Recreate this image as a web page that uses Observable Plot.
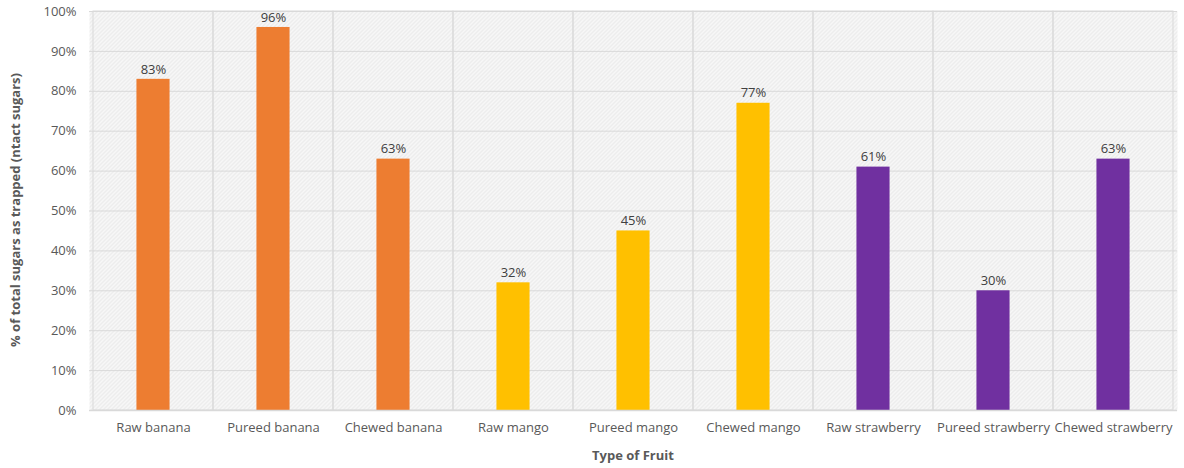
<!DOCTYPE html>
<html><head><meta charset="utf-8">
<script src="https://cdn.jsdelivr.net/npm/d3@7"></script>
<script src="https://cdn.jsdelivr.net/npm/@observablehq/plot@0.6"></script>
<style>
body{margin:0;background:#fff;}
#chart{position:relative;width:1184px;height:468px;}
</style></head>
<body><div id="chart"></div>
<script>
const categories = ["Raw banana","Pureed banana","Chewed banana","Raw mango","Pureed mango","Chewed mango","Raw strawberry","Pureed strawberry","Chewed strawberry"];
const values = [83,96,63,32,45,77,61,30,63];
const fruits = ["banana","banana","banana","mango","mango","mango","strawberry","strawberry","strawberry"];
const fruitDomain = ["banana","mango","strawberry"];
const fruitColors = ["#ED7D31","#FFC000","#7030A0"];
const yTicks = [0,10,20,30,40,50,60,70,80,90,100];

const data = categories.map((c,i)=>({cat:c, v:values[i], fruit:fruits[i]}));

const W = 1184, H = 468;
const ml = 89, mr = 7;
const bw = (W - ml - mr) / categories.length;
const inset = (bw - 34) / 2;

const plot = Plot.plot({
  width: W, height: H,
  marginLeft: ml, marginRight: mr, marginTop: 11, marginBottom: 58,
  style: {fontFamily: "'Open Sans', sans-serif", fontSize: "13px", color: "#595959", background: "#fff"},
  x: {domain: categories, padding: 0, label: null, tickSize: 0, tickPadding: 12},
  y: {domain: [0,100], ticks: yTicks, tickFormat: d => d + "%", label: null, tickSize: 0, tickPadding: 13},
  color: {domain: fruitDomain, range: fruitColors},
  marks: [
    Plot.frame({fill: "url(#hatch)", stroke: "none"}),
    Plot.gridY(yTicks, {stroke: "#d9d9d9", strokeOpacity: 1, strokeWidth: 1}),
    Plot.barY(data, {x: "cat", y1: 0, y2: 100, fill: "none", stroke: "#d9d9d9", strokeWidth: 1}),
    Plot.barY(data, {x: "cat", y: "v", fill: "fruit", insetLeft: inset, insetRight: inset}),
    Plot.text(data, {x: "cat", y: "v", text: d => d.v + "%", dy: -10, fill: "#404040", fontSize: 13, fontFamily: "'Open Sans', sans-serif"}),
    Plot.ruleY([0], {stroke: "#d9d9d9", strokeWidth: 1.5})
  ]
});

// add hatch pattern
const ns = "http://www.w3.org/2000/svg";
const defs = document.createElementNS(ns, "defs");
defs.innerHTML = `<pattern id="hatch" patternUnits="userSpaceOnUse" width="4" height="4">
  <rect width="4" height="4" fill="#f7f7f7"/>
  <path d="M-1,1 l2,-2 M0,4 l4,-4 M3,5 l2,-2" stroke="#e2e2e2" stroke-width="1"/>
</pattern>`;
plot.insertBefore(defs, plot.firstChild);

// axis labels
const yl = document.createElementNS(ns, "text");
yl.setAttribute("transform", "translate(20,210) rotate(-90)");
yl.setAttribute("text-anchor", "middle");
yl.setAttribute("font-weight", "bold");
yl.setAttribute("font-size", "13");
yl.setAttribute("fill", "#595959");
yl.textContent = "% of total sugars as trapped (ntact sugars)";
plot.appendChild(yl);

const xl = document.createElementNS(ns, "text");
xl.setAttribute("x", 633);
xl.setAttribute("y", 460);
xl.setAttribute("text-anchor", "middle");
xl.setAttribute("font-weight", "bold");
xl.setAttribute("font-size", "13");
xl.setAttribute("fill", "#595959");
xl.textContent = "Type of Fruit";
plot.appendChild(xl);

document.getElementById("chart").appendChild(plot);
</script></body></html>
